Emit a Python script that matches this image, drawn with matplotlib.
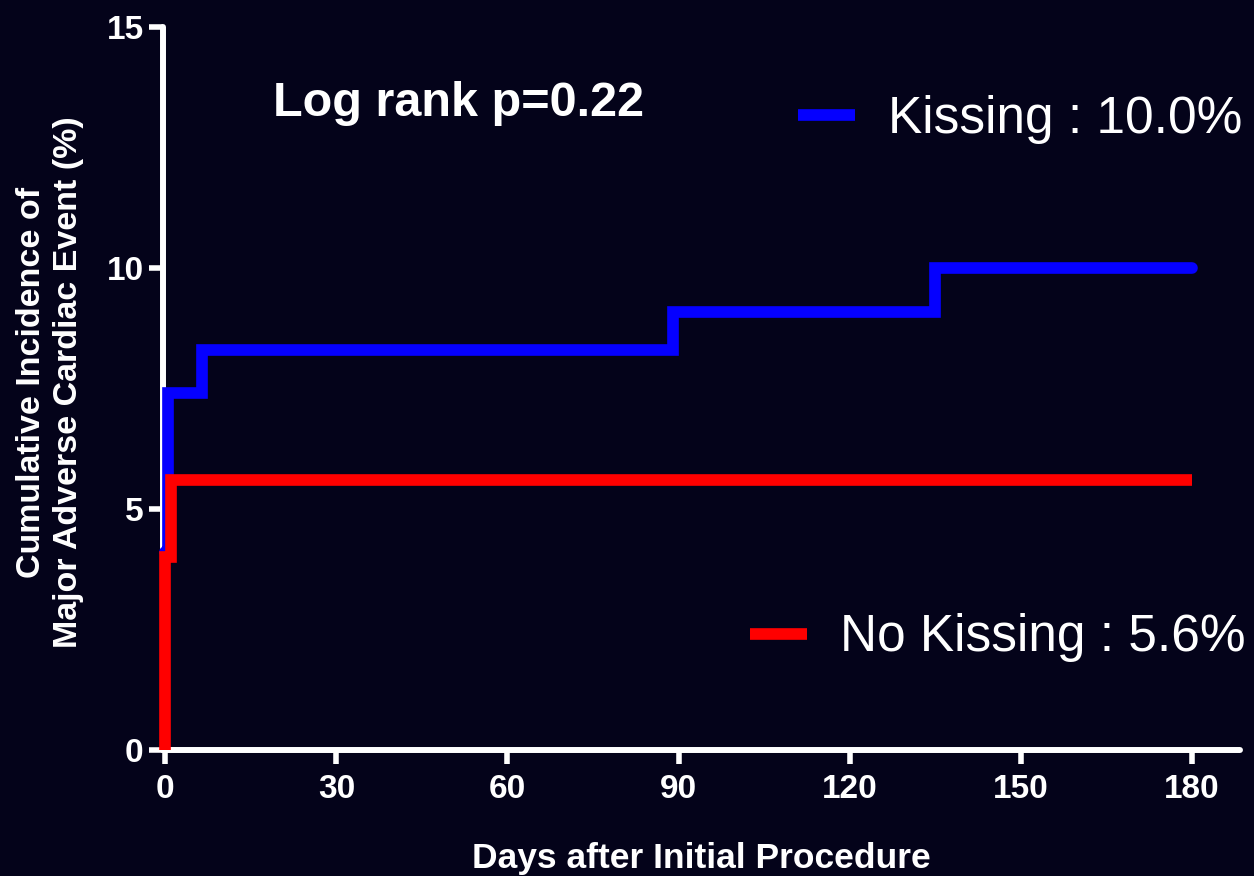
import matplotlib.pyplot as plt

# step data (days, cumulative incidence %)
days_kiss = [0, 0.5, 6.5, 89, 135, 180]
mace_kiss = [4.1, 7.4, 8.3, 9.1, 10.0, 10.0]

days_nokiss = [0, 0, 1, 180]
mace_nokiss = [0, 4.0, 5.6, 5.6]

xticks = [0, 30, 60, 90, 120, 150, 180]
yticks = [0, 5, 10, 15]

bg = '#04031a'
plt.rcParams['font.family'] = ['Liberation Sans', 'DejaVu Sans']

fig = plt.figure(figsize=(12.54, 8.76), dpi=100, facecolor=bg)
ax = fig.add_axes([0.130, 0.1438, 0.859, 0.825])
ax.set_facecolor(bg)

l1, = ax.step(days_kiss, mace_kiss, where='post', color='#0500ff', lw=8.4,
              solid_joinstyle='miter', solid_capstyle='round', clip_on=False, zorder=3)
l2, = ax.step(days_nokiss, mace_nokiss, where='post', color='#ff0000', lw=8.4,
              solid_joinstyle='miter', solid_capstyle='butt', clip_on=False, zorder=4)

ax.set_xlim(-0.4, 188.5)
ax.set_ylim(0, 15)
ax.set_xticks(xticks)
ax.set_yticks(yticks)

for s in ['top', 'right']:
    ax.spines[s].set_visible(False)
for s in ['left', 'bottom']:
    ax.spines[s].set_color('white')
    ax.spines[s].set_linewidth(4.3)
    ax.spines[s].set_capstyle('round')

ax.tick_params(colors='white', width=4, length=10, labelsize=24)
ax.tick_params(axis='x', pad=7)
ax.tick_params(axis='y', pad=4)
for lab in ax.get_xticklabels() + ax.get_yticklabels():
    lab.set_fontweight('bold')

ax.set_xlabel('Days after Initial Procedure', color='white', fontsize=25.5,
              fontweight='bold', labelpad=27)
fig.text(0.04, 1 - 382 / 876, 'Cumulative Incidence of\nMajor Adverse Cardiac Event (%)',
         color='white', fontsize=24.5, fontweight='bold', rotation=90,
         ha='center', va='center', linespacing=1.25)

ax.text(0.102, 0.895, 'Log rank p=0.22', transform=ax.transAxes, color='white',
        fontsize=35, fontweight='bold', va='center', ha='left')

leg1 = fig.legend([l1], ['Kissing : 10.0%'], loc='center left',
                  bbox_to_anchor=(798 / 1254, 1 - 119 / 876), frameon=False,
                  fontsize=37, handlelength=1.1, handletextpad=0.65,
                  borderpad=0, borderaxespad=0, labelcolor='white')
leg2 = fig.legend([l2], ['No Kissing : 5.6%'], loc='center left',
                  bbox_to_anchor=(750 / 1254, 1 - 638 / 876), frameon=False,
                  fontsize=37, handlelength=1.1, handletextpad=0.65,
                  borderpad=0, borderaxespad=0, labelcolor='white')
for leg in (leg1, leg2):
    leg.legend_handles[0].set_solid_capstyle('butt')

fig.savefig('out.png', dpi=100, facecolor=bg)
